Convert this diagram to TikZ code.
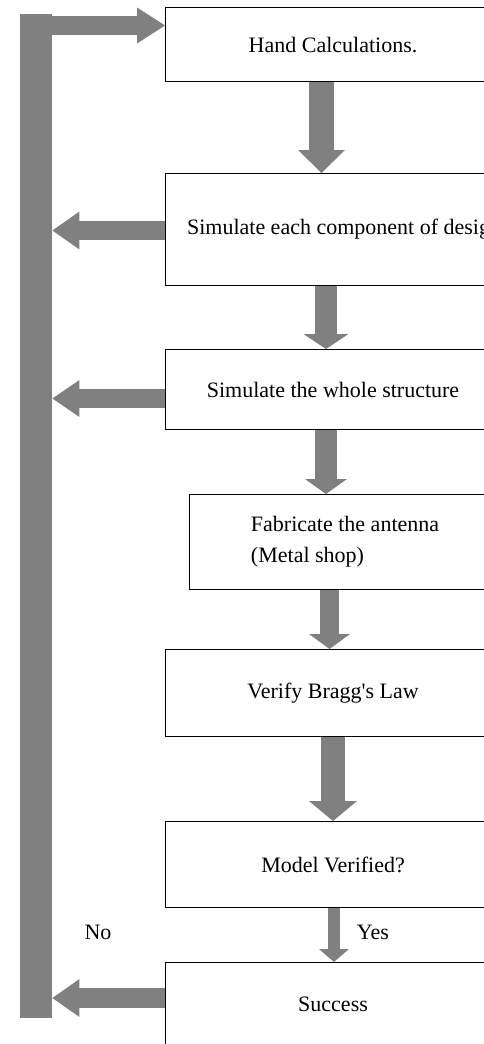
\documentclass[tikz,border=0pt]{standalone}
\usepackage{fontspec}
\setmainfont{Liberation Serif}
\usetikzlibrary{arrows.meta}
\definecolor{flowgray}{RGB}{128,128,128}
\tikzset{
  stepbox/.style={draw=black, line width=1.1pt, fill=white, inner sep=0pt, anchor=north west, font=\fontsize{22}{31}\selectfont},
  downarrow/.style n args={3}{draw=flowgray, line width=#1, -{Triangle[width=#2,length=#3,line width=0pt]}},
  backarrow/.style n args={3}{draw=flowgray, line width=#1, -{Triangle[width=#2,length=#3,line width=0pt]}},
  label/.style={font=\fontsize{22}{26}\selectfont},
}
\begin{document}
\begin{tikzpicture}[x=1pt,y=1pt,yscale=-1]
\useasboundingbox (0,0) rectangle (483,1044);

%Shape: Rectangle (return bar)
\node [fill=flowgray, inner sep=0pt, minimum width=32pt, minimum height=1004pt, anchor=north west] (bar) at (20,14) {};

%Shape: Rectangle
\node [stepbox, minimum width=335pt, minimum height=74pt] (hand) at (165,7) {Hand Calculations.};
%Shape: Rectangle
\node [stepbox, minimum width=335pt, minimum height=112pt] (sim) at (165,173) {\hspace*{11pt}Simulate each component of design\hspace*{-11pt}};
%Shape: Rectangle
\node [stepbox, minimum width=335pt, minimum height=80pt] (whole) at (165,349) {Simulate the whole structure};
%Shape: Rectangle
\node [stepbox, minimum width=311pt, minimum height=95pt, align=left] (fab) at (189,494) {Fabricate the antenna\\(Metal shop)\hspace*{50pt}};
%Shape: Rectangle
\node [stepbox, minimum width=335pt, minimum height=87pt] (bragg) at (165,649) {Verify Bragg\textquotesingle s Law};
%Shape: Rectangle
\node [stepbox, minimum width=335pt, minimum height=86pt] (model) at (165,821) {Model Verified?};
%Shape: Rectangle
\node [stepbox, minimum width=335pt, minimum height=84pt] (success) at (165,962) {Success};

%Straight Lines (down)
\draw [downarrow={25pt}{47pt}{23pt}] (321.5,0 |- hand.south) -- (321.5,0 |- sim.north);
\draw [downarrow={22pt}{45pt}{15pt}] (326,0 |- sim.south) -- (326,0 |- whole.north);
\draw [downarrow={22pt}{42pt}{15pt}] (326,0 |- whole.south) -- (326,0 |- fab.north);
\draw [downarrow={19pt}{41pt}{15pt}] (329.5,0 |- fab.south) -- (329.5,0 |- bragg.north);
\draw [downarrow={24pt}{48pt}{20pt}] (333,0 |- bragg.south) -- (333,0 |- model.north);
\draw [downarrow={12pt}{30pt}{13pt}] (334,0 |- model.south) -- (334,0 |- success.north);

%Straight Lines (back to the bar)
\draw [backarrow={19pt}{36pt}{28pt}] (bar.center |- 0,25.5) -- (hand.west |- 0,25.5);
\draw [backarrow={19pt}{38pt}{27pt}] (sim.west |- 0,230.5) -- (bar.east |- 0,230.5);
\draw [backarrow={19pt}{37pt}{27pt}] (whole.west |- 0,398.5) -- (bar.east |- 0,398.5);
\draw [backarrow={20pt}{38pt}{27pt}] (success.west |- 0,998) -- (bar.east |- 0,998);

% Text Node
\node [label] (yes) at (373,932) {Yes};
% Text Node
\node [label] (no) at (98,932) {No};

\end{tikzpicture}
\end{document}
